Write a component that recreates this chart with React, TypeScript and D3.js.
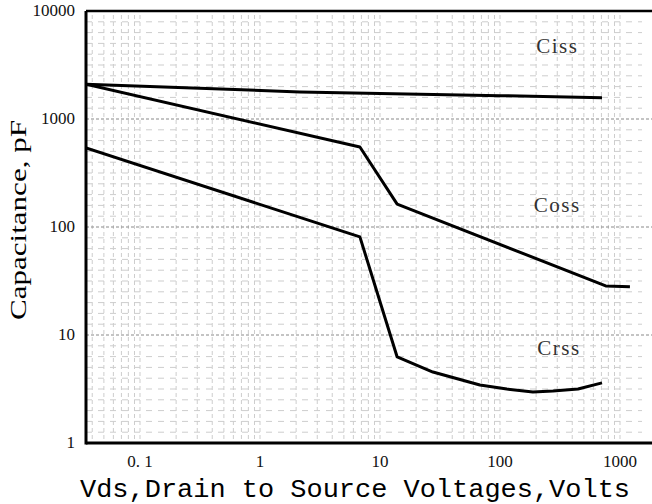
import React from 'react';
import * as d3 from 'd3';

// chart size
const W = 652;
const H = 504;

// curve data: [Vds volts, capacitance pF]
const cissData: [number, number][] = [[0.0355, 2100], [2.15, 1780], [100, 1645], [708, 1575]];
const cossData: [number, number][] = [[0.0355, 2100], [6.8, 550], [13.9, 163], [760, 28.5], [1210, 28]];
const crssData: [number, number][] = [
  [0.0355, 540], [6.8, 81], [13.9, 6.26], [27.6, 4.54], [68, 3.44], [114, 3.16],
  [188, 2.97], [276, 3.03], [447, 3.16], [708, 3.6],
];

const xTicks = [0.1, 1, 10, 100, 1000];
const xTickLabels = ['0. 1', '1', '10', '100', '1000'];
const yTicks = [1, 10, 100, 1000, 10000];
const yTickLabels = ['1', '10', '100', '1000', '10000'];
const curveLabels = [
  {name: 'Ciss', at: [300, 4080]},
  {name: 'Coss', at: [300, 138]},
  {name: 'Crss', at: [310, 6.5]},
];

const App = () => {
  const plotLeft = 86, plotRight = 652, plotTop = 11, plotBottom = 443;

  // decade of 120px on x, 0.1 sits at x=140
  const x = d3.scaleLog().domain([0.1, 1000]).range([140, 620]);
  const y = d3.scaleLog().domain([1, 10000]).range([plotBottom, plotTop]);
  const xMin = x.invert(plotLeft);
  const xMax = x.invert(plotRight - 10);

  // vertical grid at log minor ticks
  const vGrid: number[] = [];
  for (let e = -2; e <= 3; e++) {
    for (let m = 1; m <= 9; m++) {
      const v = m * Math.pow(10, e);
      if (v > xMin * 1.02 && v < xMax) vGrid.push(v);
    }
  }
  // horizontal light grid: ten evenly spaced rows per decade
  const hGrid: number[] = [];
  for (let e = 0; e < 4; e++) {
    for (let k = 1; k < 10; k++) hGrid.push(Math.pow(10, e + k / 10));
  }

  const line = d3.line<[number, number]>().x(d => x(d[0])).y(d => y(d[1]));

  return (
    <svg width={W} height={H} style={{position: 'absolute', left: 0, top: 0, background: '#fff'}}>
      <defs>
        <clipPath id="plot">
          <rect x={plotLeft} y={plotTop} width={plotRight - plotLeft} height={plotBottom - plotTop}/>
        </clipPath>
      </defs>

      {/* grid */}
      <g stroke="#cdcdcd" strokeWidth={1} fill="none">
        {vGrid.map((v, i) => (
          <line key={'v' + i} x1={x(v)} x2={x(v)} y1={plotTop + 4} y2={plotBottom} strokeDasharray="4,3"/>
        ))}
        {hGrid.map((v, i) => (
          <line key={'h' + i} x1={plotLeft} x2={plotRight - 10} y1={y(v)} y2={y(v)} strokeDasharray="6,6"/>
        ))}
      </g>
      <g stroke="#8a8a8a" strokeWidth={1.2}>
        {yTicks.slice(1, 4).map(v => (
          <line key={v} x1={plotLeft} x2={plotRight} y1={y(v)} y2={y(v)} strokeDasharray="3,2"/>
        ))}
      </g>

      {/* curves */}
      <g clipPath="url(#plot)" fill="none" stroke="#000" strokeWidth={3} strokeLinejoin="round">
        <path d={line(cissData) || ''}/>
        <path d={line(cossData) || ''}/>
        <path d={line(crssData) || ''}/>
      </g>

      {/* frame */}
      <line x1={plotLeft} x2={plotRight} y1={plotTop} y2={plotTop} stroke="#000" strokeWidth={2.5}/>
      <line x1={plotLeft} x2={plotRight} y1={plotBottom} y2={plotBottom} stroke="#000" strokeWidth={3}/>
      <line x1={plotLeft} x2={plotLeft} y1={plotTop} y2={plotBottom + 1.5} stroke="#000" strokeWidth={3}/>

      {/* curve labels */}
      <g fontFamily="'Liberation Serif', serif" fontSize={21} letterSpacing={1.5} fill="#333" textAnchor="middle">
        {curveLabels.map(c => (
          <text key={c.name} x={x(c.at[0])} y={y(c.at[1])}>{c.name}</text>
        ))}
      </g>

      {/* tick labels */}
      <g fontFamily="'Liberation Serif', serif" fontSize={17} fill="#111">
        {yTicks.map((v, i) => (
          <text key={v} x={75} y={y(v) + 5} textAnchor="end">{yTickLabels[i]}</text>
        ))}
        {xTicks.map((v, i) => (
          <text key={v} x={x(v)} y={467} textAnchor="middle">{xTickLabels[i]}</text>
        ))}
      </g>

      {/* axis titles */}
      <text x={355} y={497} textAnchor="middle" fontFamily="'Liberation Mono', monospace" fontSize={26}
            textLength={550} lengthAdjust="spacingAndGlyphs" fill="#000">
        Vds,Drain to Source Voltages,Volts
      </text>
      <text transform="translate(26,220) rotate(-90)" textAnchor="middle" fontFamily="'Liberation Serif', serif"
            fontSize={23} textLength={200} lengthAdjust="spacingAndGlyphs" fill="#000">
        Capacitance, pF
      </text>
    </svg>
  );
};

export default App;
